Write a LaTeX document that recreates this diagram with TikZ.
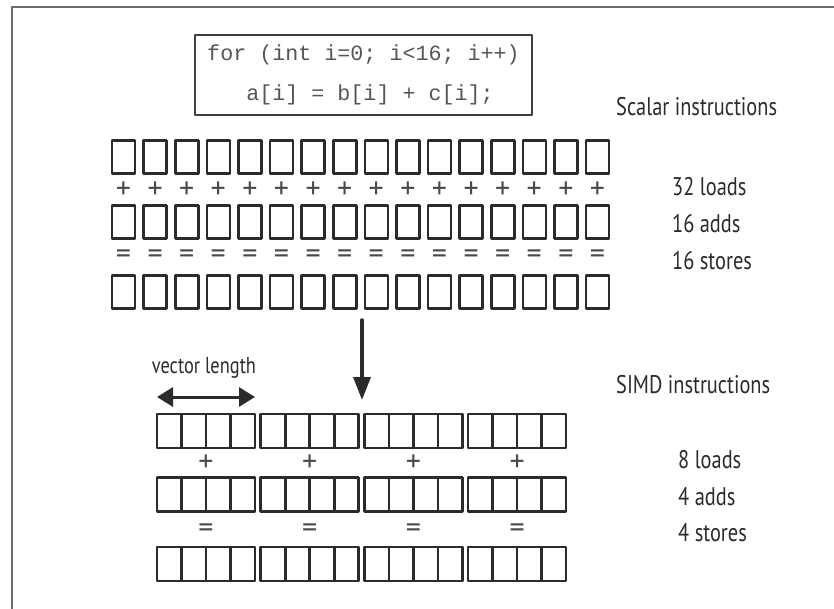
\documentclass[tikz,border=0pt]{standalone}
\usepackage{fontspec}
\setmainfont[FakeStretch=0.8]{PT Sans}
\newfontfamily\opfont{PT Sans}
\newfontfamily\codefont{Liberation Mono}
\usepackage{tikz}
\usetikzlibrary{arrows.meta,positioning}

\definecolor{ink}{HTML}{2b2b2b}
\definecolor{codegray}{HTML}{555555}
\definecolor{framegray}{HTML}{6c6c6c}

\tikzset{
  cell/.style={draw=ink,line width=2.6pt,inner sep=0pt,outer sep=0pt,minimum width=23pt,minimum height=33pt},
  vcell/.style={cell,minimum width=24.5pt,minimum height=34pt},
  oper/.style={text=ink!85,inner sep=0pt,font=\opfont\fontsize{30}{30}\selectfont},
  lbl/.style={anchor=west,text=ink,inner sep=0pt,font=\fontsize{25.5}{25.5}\selectfont},
  codebox/.style={draw=ink!90,line width=1.4pt,minimum width=337pt,minimum height=80pt,align=left,text=codegray,font={\codefont\fontsize{21.7pt}{40pt}\selectfont}},
  bigarrow/.style={-{Triangle[length=23pt,width=17pt]},line width=3.5pt,draw=ink},
  lenarrow/.style={{Triangle[length=16pt,width=19pt]}-{Triangle[length=16pt,width=19pt]},line width=3pt,draw=ink}
}

\begin{document}
\begin{tikzpicture}[x=1pt,y=-1pt,line cap=round,line join=round]
\path[use as bounding box] (0,0) rectangle (834,609);
\draw[framegray,line width=2.2pt] (834,7) -- (12,7) -- (12,609);

% loop source
\node[codebox] (code) at (363.5,75) {for (int i=0; i<16; i++)\\\phantom{aaa}a[i] = b[i] + c[i];};

% scalar: one element per instruction
\foreach \i in {0,...,15}{
  \node[cell] (sa\i) at (123.5+31.6*\i,157) {};
  \node[oper] (splus\i) at (123.5+31.6*\i,190) {+};
  \node[cell] (sb\i) at (123.5+31.6*\i,222) {};
  \node[oper] (seq\i) at (123.5+31.6*\i,257) {=};
  \node[cell] (sc\i) at (123.5+31.6*\i,292) {};
}
\node[lbl] (scalar) at (616,107) {Scalar instructions};
\node[lbl] (sloads) at (672,187) {32 loads};
\node[lbl] (sadds) at (672,224) {16 adds};
\node[lbl] (sstores) at (672,261) {16 stores};

\coordinate (dtop) at (362,320);
\coordinate (dend) at (362,400);
\draw[bigarrow] (dtop) -- (dend);

% simd: four elements per instruction
\foreach \g in {0,...,3}{
  \foreach \k in {0,...,3}{
    \node[vcell] (va\g\k) at (169.25+103.7*\g+24.5*\k,431) {};
    \node[vcell] (vb\g\k) at (169.25+103.7*\g+24.5*\k,494.5) {};
    \node[vcell] (vc\g\k) at (169.25+103.7*\g+24.5*\k,564) {};
  }
  \node[oper] (vplus\g) at (206+103.7*\g,463) {+};
  \node[oper] (veq\g) at (206+103.7*\g,531) {=};
}
\draw[lenarrow] ([yshift=17pt]va00.north west) -- ([yshift=17pt]va03.north east);
\node[text=ink,inner sep=0pt,font=\fontsize{23}{23}\selectfont] (veclen) at (204,368) {vector length};

\node[lbl] (simd) at (616,385) {SIMD instructions};
\node[lbl] (vloads) at (678,460) {8 loads};
\node[lbl] (vadds) at (678,497) {4 adds};
\node[lbl] (vstores) at (678,533) {4 stores};
\end{tikzpicture}
\end{document}
